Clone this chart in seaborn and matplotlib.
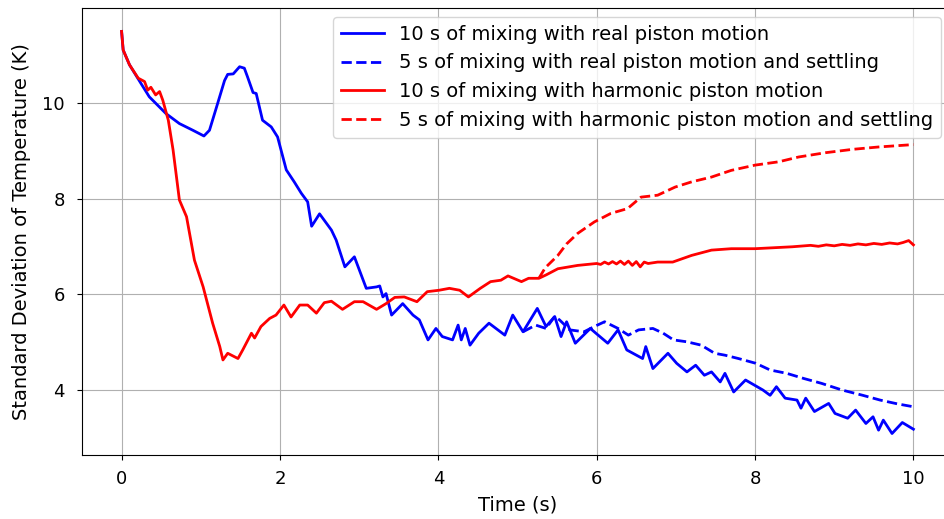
import pandas as pd
import seaborn as sns
import matplotlib
matplotlib.use("Agg")
import matplotlib.pyplot as plt

# 10 s of mixing, real piston motion
real_10_t = [0, 0.02, 0.10, 0.23, 0.35, 0.56, 0.73, 0.90, 1.04, 1.11, 1.20, 1.30, 1.34, 1.41, 1.49,
             1.55, 1.59, 1.66, 1.70, 1.78, 1.89, 1.97, 2.08, 2.18, 2.27, 2.35, 2.40, 2.50, 2.65, 2.71,
             2.82, 2.94, 3.09, 3.22, 3.26, 3.30, 3.34, 3.41, 3.55, 3.68, 3.76, 3.87, 3.97, 4.05, 4.18,
             4.25, 4.29, 4.34, 4.40, 4.51, 4.64, 4.84, 4.94, 5.07, 5.25, 5.36, 5.47, 5.55, 5.62, 5.73,
             5.92, 5.99, 6.14, 6.27, 6.38, 6.58, 6.62, 6.71, 6.90, 7.01, 7.14, 7.25, 7.36, 7.45, 7.56,
             7.62, 7.73, 7.88, 8.10, 8.19, 8.27, 8.38, 8.53, 8.58, 8.64, 8.75, 8.93, 9.01, 9.17, 9.27,
             9.40, 9.49, 9.56, 9.62, 9.73, 9.86, 10.0]
real_10_sd = [11.5, 11.11, 10.80, 10.45, 10.13, 9.78, 9.57, 9.43, 9.31, 9.43, 9.92, 10.47, 10.60, 10.61,
              10.76, 10.73, 10.55, 10.22, 10.20, 9.64, 9.50, 9.29, 8.60, 8.35, 8.11, 7.93, 7.42, 7.68,
              7.34, 7.13, 6.57, 6.78, 6.12, 6.15, 6.17, 5.94, 6.01, 5.56, 5.80, 5.56, 5.46, 5.04, 5.28,
              5.11, 5.04, 5.35, 5.04, 5.28, 4.93, 5.18, 5.39, 5.14, 5.56, 5.21, 5.70, 5.32, 5.53, 5.11,
              5.42, 4.97, 5.28, 5.18, 4.97, 5.25, 4.83, 4.65, 4.90, 4.44, 4.76, 4.55, 4.37, 4.51, 4.30,
              4.37, 4.16, 4.34, 3.95, 4.20, 3.99, 3.88, 4.06, 3.82, 3.78, 3.61, 3.82, 3.54, 3.71, 3.50,
              3.40, 3.57, 3.29, 3.43, 3.15, 3.36, 3.08, 3.31, 3.17]

# 5 s of mixing, real piston motion, then settling
real_5_t = [5.07, 5.23, 5.36, 5.47, 5.53, 5.66, 5.84, 5.97, 6.10, 6.27, 6.40, 6.53, 6.71, 6.84, 6.97,
            7.14, 7.32, 7.49, 7.62, 7.79, 8.01, 8.19, 8.40, 8.62, 8.84, 9.10, 9.36, 9.58, 9.80, 10.0]
real_5_sd = [5.21, 5.35, 5.28, 5.53, 5.46, 5.25, 5.21, 5.32, 5.42, 5.28, 5.14, 5.25, 5.28, 5.18, 5.04,
             5.00, 4.93, 4.76, 4.72, 4.65, 4.55, 4.41, 4.34, 4.23, 4.13, 3.99, 3.88, 3.78, 3.70, 3.64]

# 10 s of mixing, harmonic piston motion
harm_10_t = [0, 0.02, 0.10, 0.21, 0.29, 0.33, 0.37, 0.43, 0.48, 0.52, 0.59, 0.65, 0.73, 0.82, 0.92,
             1.03, 1.15, 1.24, 1.28, 1.34, 1.47, 1.53, 1.64, 1.68, 1.76, 1.87, 1.95, 2.05, 2.14, 2.25,
             2.35, 2.46, 2.56, 2.65, 2.79, 2.94, 3.05, 3.22, 3.34, 3.45, 3.57, 3.73, 3.86, 4.01, 4.14,
             4.27, 4.38, 4.53, 4.66, 4.79, 4.88, 5.05, 5.14, 5.27, 5.36, 5.51, 5.76, 6.0, 6.05, 6.1,
             6.15, 6.2, 6.25, 6.3, 6.35, 6.4, 6.45, 6.5, 6.55, 6.6, 6.65, 6.77, 6.96, 7.20, 7.45,
             7.70, 8.0, 8.47, 8.7, 8.8, 8.9, 9.0, 9.1, 9.2, 9.3, 9.4, 9.5, 9.6, 9.7, 9.8, 9.87,
             9.94, 10.0]
harm_10_sd = [11.5, 11.11, 10.80, 10.52, 10.45, 10.27, 10.33, 10.17, 10.24, 10.06, 9.64, 9.02, 7.97,
              7.62, 6.71, 6.15, 5.39, 4.90, 4.62, 4.76, 4.65, 4.83, 5.18, 5.08, 5.32, 5.49, 5.56, 5.77,
              5.52, 5.77, 5.77, 5.60, 5.82, 5.85, 5.68, 5.84, 5.84, 5.68, 5.80, 5.93, 5.94, 5.84, 6.05,
              6.08, 6.12, 6.08, 5.94, 6.12, 6.26, 6.29, 6.38, 6.26, 6.33, 6.33, 6.40, 6.53, 6.60, 6.64,
              6.62, 6.67, 6.63, 6.68, 6.63, 6.69, 6.62, 6.69, 6.60, 6.68, 6.57, 6.67, 6.64, 6.67, 6.67,
              6.81, 6.92, 6.95, 6.95, 6.99, 7.02, 7.00, 7.03, 7.01, 7.04, 7.02, 7.05, 7.03, 7.06, 7.04,
              7.07, 7.05, 7.08, 7.12, 7.03]

# 5 s of mixing, harmonic piston motion, then settling
harm_5_t = [5.27, 5.35, 5.51, 5.62, 5.76, 5.97, 6.18, 6.39, 6.56, 6.77, 6.99, 7.20, 7.45, 7.70, 8.0,
            8.30, 8.55, 8.89, 9.23, 9.56, 10.0]
harm_5_sd = [6.33, 6.55, 6.81, 7.05, 7.27, 7.51, 7.69, 7.79, 8.03, 8.07, 8.24, 8.35, 8.45, 8.59, 8.70,
             8.77, 8.87, 8.96, 9.03, 9.08, 9.13]

plt.rcParams['font.size'] = 14

fig = plt.figure(figsize=(9.44, 5.19), dpi=100)
# axes run past the right edge of the picture, like the cropped original
ax = fig.add_axes([82 / 944, 64 / 519, 871 / 944, 447 / 519])

series = [
    (real_10_t, real_10_sd, 'blue', '-', '10 s of mixing with real piston motion'),
    (real_5_t, real_5_sd, 'blue', '--', '5 s of mixing with real piston motion and settling'),
    (harm_10_t, harm_10_sd, 'red', '-', '10 s of mixing with harmonic piston motion'),
    (harm_5_t, harm_5_sd, 'red', '--', '5 s of mixing with harmonic piston motion and settling'),
]
for t, sd, col, ls, lab in series:
    df = pd.DataFrame({'t': t, 'sd': sd})
    sns.lineplot(x='t', y='sd', data=df, ax=ax, color=col, linestyle=ls, linewidth=2,
                 estimator=None, sort=False, label=lab)

ax.set_xlim(-0.5, 10.5)
ax.set_ylim(2.63, 11.99)
ax.set_xticks([0, 2, 4, 6, 8, 10])
ax.set_yticks([4, 6, 8, 10])
ax.tick_params(axis='both', labelsize=13)
ax.tick_params(axis='x', pad=7)
ax.tick_params(axis='y', pad=9)
ax.grid(True)
ax.set_xlabel('Time (s)', labelpad=6)
ax.set_ylabel('Standard Deviation of Temperature (K)', labelpad=8)
ax.legend(loc='upper right', bbox_to_anchor=(941 / 944, 1 - 17 / 519),
          bbox_transform=fig.transFigure, borderaxespad=0, handlelength=2.2)

fig.savefig('out.png', dpi=100)
